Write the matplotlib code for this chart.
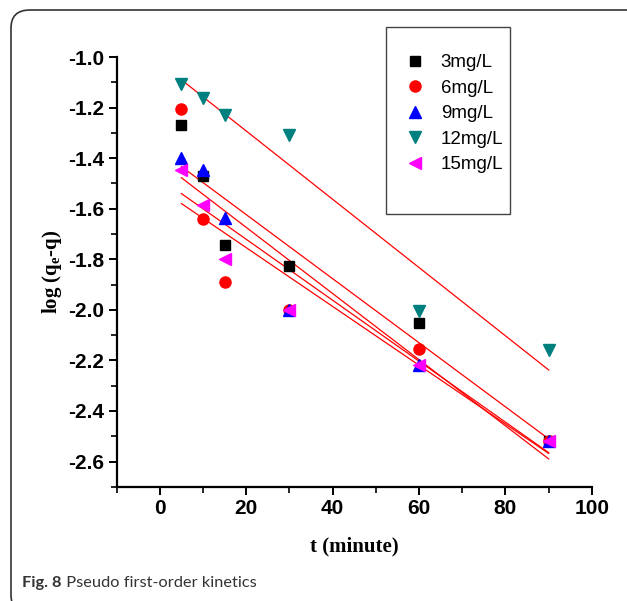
import numpy as np
import matplotlib
matplotlib.use("Agg")
import matplotlib.pyplot as plt
from matplotlib.patches import Rectangle, FancyBboxPatch

# contact time (minutes)
t = [5, 10, 15, 30, 60, 90]

# log(qe - q)
conc_labels = ["3mg/L", "6mg/L", "9mg/L", "12mg/L", "15mg/L"]
y_3 = [-1.27, -1.47, -1.745, -1.825, -2.05, -2.52]
y_6 = [-1.205, -1.64, -1.89, -2.00, -2.155, -2.52]
y_9 = [-1.40, -1.445, -1.635, -2.00, -2.22, -2.52]
y_12 = [-1.105, -1.16, -1.23, -1.31, -2.005, -2.16]
y_15 = [-1.445, -1.585, -1.80, -2.00, -2.22, -2.52]

series = [y_3, y_6, y_9, y_12, y_15]
colors = ["black", "#ff0000", "#0000ff", "#007f7f", "#ff00ff"]
markers = ["s", "o", "^", "v", "<"]
msizes = [7, 8, 9, 9, 9]

plt.rcParams["axes.unicode_minus"] = False
plt.rcParams["mathtext.fontset"] = "custom"
plt.rcParams["mathtext.rm"] = "Liberation Serif:bold"
plt.rcParams["mathtext.it"] = "Liberation Serif:bold"
plt.rcParams["mathtext.bf"] = "Liberation Serif:bold"

fig = plt.figure(figsize=(6.27, 6.01), dpi=100)
ax = fig.add_axes([0.186, 0.19, 0.758, 0.715])

tt = np.array(t)
for ys, c, m, ms, lab in zip(series, colors, markers, msizes, conc_labels):
    ax.plot(t, ys, linestyle="none", marker=m, color=c, markersize=ms,
            label=lab, zorder=3)
    # linear fit of each series
    k, b = np.polyfit(tt, ys, 1)
    ax.plot([tt[0], tt[-1]], [k * tt[0] + b, k * tt[-1] + b],
            color="#ff0000", linewidth=0.9, zorder=2)

ax.set_xlim(-10, 100)
ax.set_ylim(-2.7, -1.0)
ax.set_xticks([0, 20, 40, 60, 80, 100])
ax.set_xticks(np.arange(-10, 101, 10), minor=True)
ax.set_yticks(np.arange(-2.6, -0.95, 0.2))
ax.set_yticks(np.arange(-2.7, -0.95, 0.1), minor=True)
ax.yaxis.set_major_formatter(matplotlib.ticker.FormatStrFormatter("%.1f"))

for s in ["top", "right"]:
    ax.spines[s].set_visible(False)
for s in ["left", "bottom"]:
    ax.spines[s].set_linewidth(1.6)
ax.tick_params(which="major", direction="out", length=6, width=1.4,
               labelsize=15, pad=3)
ax.tick_params(which="minor", direction="out", length=4, width=1.2)
for lbl in ax.get_xticklabels() + ax.get_yticklabels():
    lbl.set_fontfamily("Liberation Sans")
    lbl.set_fontweight("bold")

ax.set_xlabel("t (minute)", fontfamily="Liberation Serif", fontweight="bold",
              fontsize=15, labelpad=13)
ax.set_ylabel(r"log (q$_\mathrm{e}$-q)", fontfamily="Liberation Serif",
              fontweight="bold", fontsize=15, labelpad=3)

# legend without frame, box drawn separately
fig.legend(loc="upper left", bbox_to_anchor=(406 / 627, 1 - 54 / 601),
           frameon=False, handlelength=1.0, handletextpad=0.85,
           labelspacing=0.45, borderpad=0, borderaxespad=0,
           prop={"family": "Liberation Sans", "size": 13.5})
fig.patches.append(Rectangle((385.7 / 627, 1 - 214 / 601),
                             (510 - 385.7) / 627, (214 - 26.7) / 601,
                             transform=fig.transFigure, fill=False,
                             edgecolor="#444444", linewidth=1.0))

# outer rounded frame of the figure panel
fig.patches.append(FancyBboxPatch((11 / 627, -0.02), 1.1, 1 - 10 / 601 + 0.02,
                                  boxstyle="round,pad=0,rounding_size=0.03",
                                  transform=fig.transFigure, fill=False,
                                  edgecolor="#333333", linewidth=1.2,
                                  clip_on=False))

# caption
cap1 = fig.text(22 / 627, 1 - 587 / 601, "Fig. 8", fontfamily="Lato",
                fontweight="bold", fontsize=11.8, color="#333333",
                va="baseline")
plt.annotate(" Pseudo first-order kinetics", xy=(1, 0), xycoords=cap1,
             va="bottom", ha="left", fontfamily="Lato", fontsize=11.8,
             color="#333333", annotation_clip=False)

fig.savefig("out.png", dpi=100)
